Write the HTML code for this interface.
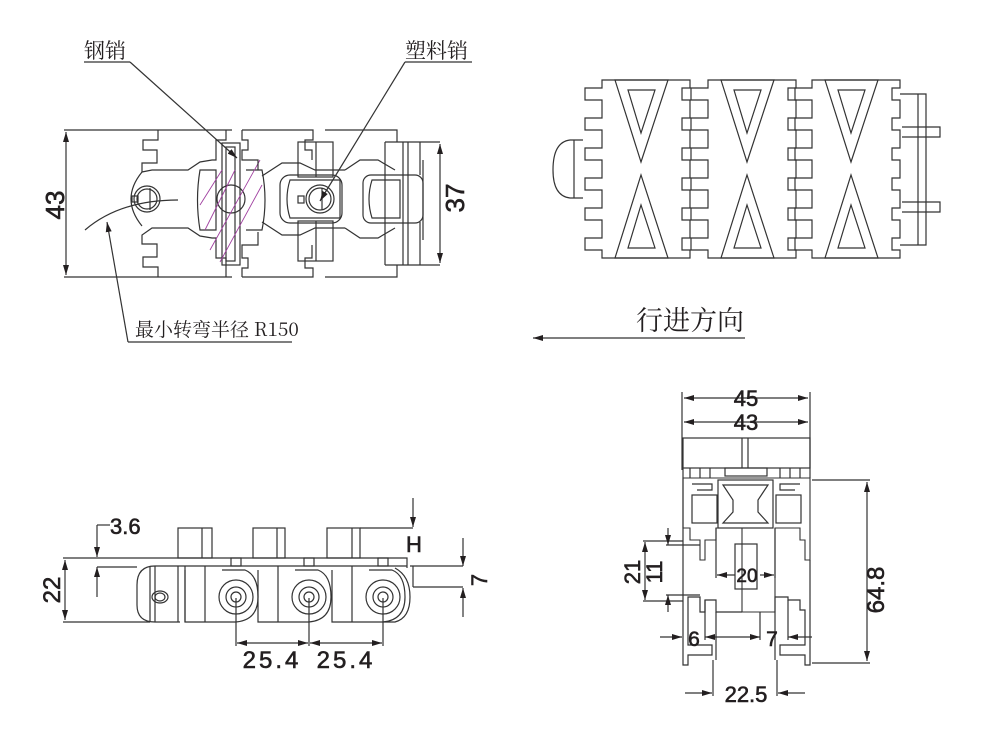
<!DOCTYPE html>
<html><head><meta charset="utf-8"><style>
html,body{margin:0;padding:0;background:#fff;width:1000px;height:750px;overflow:hidden}
svg{display:block}
text{font-family:"Liberation Sans","Noto Sans CJK SC",sans-serif;fill:#231f20}
.cn{font-family:"Noto Serif CJK SC","Noto Sans CJK SC",serif}
.n{stroke:#231f20;stroke-width:0.6}
</style></head><body>
<svg width="1000" height="750" viewBox="0 0 1000 750" xmlns="http://www.w3.org/2000/svg">
<defs>
<marker id="ar" viewBox="0 0 10 6" refX="10" refY="3" markerWidth="10" markerHeight="6" orient="auto-start-reverse" markerUnits="userSpaceOnUse"><path d="M0,0 L10,3 L0,6 z" fill="#231f20"/></marker>
</defs>
<g stroke="#333" stroke-width="1.2" fill="none">

<!-- ============ TOP LEFT VIEW ============ -->
<line x1="64" y1="130" x2="232" y2="130"/>
<line x1="64" y1="277" x2="232" y2="277"/>
<line x1="66" y1="132" x2="66" y2="275" marker-start="url(#ar)" marker-end="url(#ar)"/>
<path d="M158,130 V140 H143 V150 H157 V163 H142 V172 L152,170 H188 L200,162 L212,160 H216 V140 H226 V130 M158,277 V267 H143 V257 H157 V244 H142 V235 L152,228 H188 L200,236 L212,238 H216 V258 H226 V277"/>
<path d="M142,172 Q120,199 142,226"/>
<circle cx="147" cy="199" r="13"/><circle cx="147" cy="199" r="10"/>
<line x1="150" y1="188" x2="150" y2="210"/><rect x="132" y="196" width="6" height="6"/>
<path d="M85,230 Q120,200 178,200"/>
<rect x="222" y="143" width="18" height="122"/>
<rect x="226" y="147" width="9" height="114"/>
<path d="M200,170 H216 V230 H200 Q195,200 200,170 Z"/>
<path d="M246,170 H262 Q268,200 262,230 H246"/>
<circle cx="231" cy="199" r="14"/>
<path d="M205,230 L235,170 M210,250 L260,160 M220,262 L262,185 M200,205 L222,170" stroke="#a040a0" stroke-width="0.9"/>
<path d="M242,130 H313 V140 H305 V150 H312 V160 M242,130 V140 H248 V150 H242 V160 H258 V170 M242,277 H313 V268 H305 V258 H312 V245 M242,277 V268 H248 V258 H242 V245 H258 V232"/>
<path d="M262,176 L282,163 H300 L315,170 H345 M262,222 L282,235 H300 L315,228 H345"/>
<rect x="280" y="175" width="62" height="48" rx="10"/>
<path d="M290,180 H340 V218 H290 Q284,199 290,180 Z"/>
<circle cx="320" cy="199" r="14"/><circle cx="320" cy="199" r="11"/>
<line x1="322" y1="188" x2="322" y2="210"/><rect x="298" y="196" width="6" height="7"/>
<rect x="298" y="142" width="35" height="35"/><line x1="316" y1="142" x2="316" y2="177"/>
<rect x="298" y="221" width="35" height="40"/><line x1="316" y1="221" x2="316" y2="261"/>
<path d="M325,130 H397 V142 M325,277 H397 V265 M345,170 L360,160 H378 L395,170 M345,228 L360,238 H378 L395,228"/>
<rect x="363" y="175" width="60" height="48" rx="8"/>
<path d="M372,180 H400 V218 H372 Q366,199 372,180 Z"/>
<path d="M385,142 H440 M385,265 H440 M385,142 V265 M403,142 V265 M408,142 V265 M420,142 V175 M420,222 V265 M423,160 V240"/>
<line x1="440" y1="144" x2="440" y2="263" marker-start="url(#ar)" marker-end="url(#ar)"/>
<line x1="84" y1="62" x2="130" y2="62"/>
<line x1="130" y1="62" x2="237" y2="158" marker-end="url(#ar)"/>
<line x1="405" y1="62" x2="472" y2="62"/>
<line x1="405" y1="62" x2="320" y2="201" marker-end="url(#ar)"/>
<line x1="128" y1="342" x2="292" y2="342"/>
<line x1="128" y1="342" x2="107" y2="222" marker-end="url(#ar)"/>

<!-- ============ TOP RIGHT VIEW ============ -->
<path d="M583,140 H570 Q553,142 553,170 Q553,196 570,198 H583"/>
<line x1="574" y1="140" x2="574" y2="198"/>
<g id="lk">
<path d="M602,80 H690 V88 H682 V100 H690 V118 H682 V130 H690 V148 H682 V160 H690 V178 H682 V190 H690 V208 H682 V220 H690 V238 H682 V250 H690 V258 H602 V250 H585 V238 H602 V220 H585 V208 H602 V190 H585 V178 H602 V160 H585 V148 H602 V130 H585 V118 H602 V100 H585 V88 H602 Z"/>
<path d="M615,80 L668,80 L641,162 Z M628,90 L655,90 L641,133 Z"/>
<path d="M615,258 L668,258 L641,175 Z M628,248 L655,248 L641,205 Z"/>
</g>
<use href="#lk" x="106"/>
<use href="#lk" x="210"/>
<path d="M692,88 H708 M692,100 H708 M692,118 H708 M692,130 H708 M692,148 H708 M692,160 H708 M692,178 H708 M692,190 H708 M692,208 H708 M692,220 H708 M692,238 H708 M692,250 H708" stroke-width="0.8"/>
<path d="M796,88 H812 M796,100 H812 M796,118 H812 M796,130 H812 M796,148 H812 M796,160 H812 M796,178 H812 M796,190 H812 M796,208 H812 M796,220 H812 M796,238 H812 M796,250 H812" stroke-width="0.8"/>
<path d="M900,94 H926 V245 H900 M918,94 V245 M902,127 H940 V137 H902 M902,202 H940 V212 H902"/>

<line x1="745" y1="338" x2="533" y2="338" marker-end="url(#ar)"/>

<!-- ============ BOTTOM LEFT VIEW ============ -->
<line x1="63" y1="558" x2="137" y2="558"/>
<line x1="63" y1="622" x2="150" y2="622"/>
<line x1="65" y1="560" x2="65" y2="620" marker-start="url(#ar)" marker-end="url(#ar)"/>
<path d="M137,558 H407 V568 M155,566 H407"/>
<path d="M155,566 Q137,566 137,585 V605 Q137,622 155,622 H180"/>
<ellipse cx="160" cy="597" rx="8" ry="6"/><ellipse cx="160" cy="597" rx="5" ry="4"/>
<line x1="150" y1="566" x2="150" y2="622"/><line x1="155" y1="566" x2="155" y2="622"/>
<line x1="178" y1="566" x2="178" y2="622"/><line x1="185" y1="566" x2="185" y2="622"/>
<rect x="178" y="528" width="34" height="30"/><line x1="202" y1="528" x2="202" y2="558"/>
<rect x="253" y="528" width="32" height="30"/><line x1="277" y1="528" x2="277" y2="558"/>
<rect x="327" y="528" width="33" height="30"/><line x1="352" y1="528" x2="352" y2="558"/>
<g id="pn">
<path d="M222,570 H245 Q258,575 258,597 Q258,620 236,622 H185 V570"/>
<circle cx="236" cy="597" r="17"/><circle cx="236" cy="597" r="10"/><circle cx="236" cy="597" r="5"/>
<rect x="231" y="558" width="10" height="8"/>
<line x1="205" y1="566" x2="205" y2="622"/>
</g>
<use href="#pn" x="73"/>
<use href="#pn" x="147"/>
<path d="M383,622 H395 Q410,618 410,597 Q410,576 395,568"/>
<path d="M110,525 H97"/>
<line x1="97" y1="525" x2="97" y2="557" marker-end="url(#ar)"/>
<line x1="97" y1="597" x2="97" y2="567" marker-end="url(#ar)"/>
<line x1="97" y1="567" x2="137" y2="567"/>
<line x1="236" y1="598" x2="236" y2="646"/><line x1="309" y1="598" x2="309" y2="646"/><line x1="383" y1="598" x2="383" y2="646"/>
<line x1="237" y1="643" x2="308" y2="643" marker-start="url(#ar)" marker-end="url(#ar)"/>
<line x1="310" y1="643" x2="382" y2="643" marker-start="url(#ar)" marker-end="url(#ar)"/>
<line x1="413" y1="498" x2="413" y2="527" marker-end="url(#ar)"/>
<line x1="360" y1="528" x2="413" y2="528"/>
<line x1="463" y1="538" x2="463" y2="566" marker-end="url(#ar)"/>
<line x1="463" y1="617" x2="463" y2="588" marker-end="url(#ar)"/>
<line x1="410" y1="566" x2="463" y2="566"/>
<line x1="413" y1="587" x2="463" y2="587"/>
<line x1="413" y1="566" x2="413" y2="587"/>

<!-- ============ BOTTOM RIGHT VIEW ============ -->
<line x1="682" y1="392" x2="682" y2="470"/><line x1="810" y1="392" x2="810" y2="478"/>
<line x1="684" y1="398" x2="808" y2="398" marker-start="url(#ar)" marker-end="url(#ar)"/>
<line x1="684" y1="422" x2="808" y2="422" marker-start="url(#ar)" marker-end="url(#ar)"/>
<rect x="683" y="438" width="127" height="30"/>
<line x1="742" y1="438" x2="742" y2="468"/><line x1="748" y1="438" x2="748" y2="468"/>
<line x1="683" y1="468" x2="683" y2="478"/>
<path d="M690,468 V478 M700,468 V478 M710,468 V478 M780,468 V478 M790,468 V478 M800,468 V478"/>
<rect x="725" y="468" width="42" height="8"/>
<path d="M683,478 H810 V560 H805 V540 H800 V528 H775 V612 H742 V528 H716 V540 H705 V560 H700 V540 H690 V528 H683 Z" stroke-width="1.1"/>
<path d="M683,478 V665 H688 V655 H712 V645 H688 V597 H700 V612 H705 V600 H716 V612 H742 M810,560 V665 H805 V655 H780 V645 H805 V610 H800 V600 H788 V597 H775 V612"/>
<rect x="692" y="495" width="25" height="28"/>
<rect x="776" y="495" width="25" height="28"/>
<path d="M692,484 H712 V490 H697 M800,484 H780 V490 H795"/>
<rect x="718" y="480" width="55" height="48"/>
<path d="M723,485 H768 L758,500 V512 L768,523 H723 L733,512 V500 Z"/>
<rect x="735" y="544" width="22" height="45"/>
<line x1="716" y1="612" x2="716" y2="660"/><line x1="775" y1="612" x2="775" y2="660"/>
<line x1="812" y1="480" x2="870" y2="480"/><line x1="812" y1="663" x2="870" y2="663"/>
<line x1="867" y1="482" x2="867" y2="661" marker-start="url(#ar)" marker-end="url(#ar)"/>
<line x1="645" y1="542" x2="645" y2="600" marker-start="url(#ar)" marker-end="url(#ar)"/>
<line x1="643" y1="541" x2="683" y2="541"/><line x1="643" y1="601" x2="683" y2="601"/>
<line x1="668" y1="528" x2="668" y2="545" marker-end="url(#ar)"/>
<line x1="668" y1="612" x2="668" y2="595" marker-end="url(#ar)"/>
<line x1="666" y1="545" x2="700" y2="545"/><line x1="666" y1="595" x2="700" y2="595"/>
<line x1="717" y1="575" x2="735" y2="575" marker-start="url(#ar)"/>
<line x1="760" y1="575" x2="774" y2="575" marker-end="url(#ar)"/>
<line x1="716" y1="528" x2="716" y2="578"/><line x1="775" y1="528" x2="775" y2="578"/>
<line x1="660" y1="637" x2="682" y2="637" marker-end="url(#ar)"/>
<line x1="705" y1="637" x2="734" y2="637" marker-start="url(#ar)"/>
<line x1="734" y1="637" x2="760" y2="637" marker-end="url(#ar)"/>
<line x1="788" y1="637" x2="812" y2="637" marker-start="url(#ar)"/>
<line x1="705" y1="600" x2="705" y2="640"/><line x1="760" y1="612" x2="760" y2="640"/><line x1="788" y1="600" x2="788" y2="640"/>
<line x1="713" y1="660" x2="713" y2="696"/><line x1="777" y1="660" x2="777" y2="696"/>
<line x1="685" y1="693" x2="712" y2="693" marker-end="url(#ar)"/>
<line x1="805" y1="693" x2="778" y2="693" marker-end="url(#ar)"/>
</g>

<text class="cn" x="84" y="58" font-size="21">钢销</text>
<text class="cn" x="405" y="58" font-size="21">塑料销</text>
<text class="cn" x="135" y="336" font-size="19">最小转弯半径 R150</text>
<text class="cn" x="636" y="330" font-size="27">行进方向</text>
<text class="n" x="0" y="0" font-size="26" transform="translate(64,205) rotate(-90)" text-anchor="middle">43</text>
<text class="n" x="0" y="0" font-size="26" transform="translate(464,198) rotate(-90)" text-anchor="middle">37</text>
<text class="n" x="0" y="0" font-size="24" transform="translate(60,590) rotate(-90)" text-anchor="middle">22</text>
<text class="n" x="110" y="534" font-size="22">3.6</text>
<text class="n" x="406" y="552" font-size="22">H</text>
<text class="n" x="0" y="0" font-size="22" transform="translate(487,580) rotate(-90)" text-anchor="middle">7</text>
<text class="n" x="272" y="668" font-size="24" text-anchor="middle" letter-spacing="3">25.4</text>
<text class="n" x="346" y="668" font-size="24" text-anchor="middle" letter-spacing="3">25.4</text>
<text class="n" x="746" y="406" font-size="22" text-anchor="middle" style="paint-order:stroke" stroke="#fff" stroke-width="4">45</text>
<text class="n" x="746" y="430" font-size="22" text-anchor="middle" style="paint-order:stroke" stroke="#fff" stroke-width="4">43</text>
<text class="n" x="0" y="0" font-size="24" transform="translate(884,590) rotate(-90)" text-anchor="middle">64.8</text>
<text class="n" x="0" y="0" font-size="22" transform="translate(640,572) rotate(-90)" text-anchor="middle">21</text>
<text class="n" x="0" y="0" font-size="22" transform="translate(662,572) rotate(-90)" text-anchor="middle">11</text>
<text class="n" x="747" y="582" font-size="19" text-anchor="middle">20</text>
<text class="n" x="694" y="646" font-size="21" text-anchor="middle">6</text>
<text class="n" x="772" y="646" font-size="21" text-anchor="middle">7</text>
<text class="n" x="746" y="702" font-size="22" text-anchor="middle">22.5</text>
</svg>
</body></html>
